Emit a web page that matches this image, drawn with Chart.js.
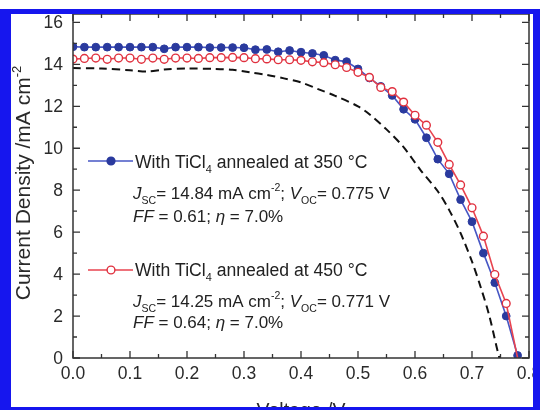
<!DOCTYPE html>
<html>
<head>
<script src="https://cdn.jsdelivr.net/npm/chart.js"></script>
<style>
body { margin: 0; background: #fff; }
#wrap { position: relative; width: 540px; height: 410px; }
#frame { position: absolute; left: 0; top: 9px; width: 540px; height: 401px; box-sizing: border-box;
  border-style: solid; border-color: #1616ee; border-width: 5px 7px 3px 11px; pointer-events: none; }
</style>
</head>
<body>
<div id="wrap">
  <canvas id="jv" width="540" height="410"></canvas>
  <div id="frame"></div>
</div>
<script>
// J-V data
const voltage = [0.00, 0.02, 0.04, 0.06, 0.08, 0.10, 0.12, 0.14, 0.16, 0.18,
                 0.20, 0.22, 0.24, 0.26, 0.28, 0.30, 0.32, 0.34, 0.36, 0.38,
                 0.40, 0.42, 0.44, 0.46, 0.48, 0.50, 0.52, 0.54, 0.56, 0.58,
                 0.60, 0.62, 0.64, 0.66, 0.68, 0.70, 0.72, 0.74, 0.76, 0.78];
const j350 = [14.84, 14.82, 14.82, 14.82, 14.82, 14.82, 14.82, 14.82, 14.74, 14.82,
              14.82, 14.82, 14.80, 14.80, 14.80, 14.79, 14.70, 14.71, 14.60, 14.66,
              14.58, 14.52, 14.43, 14.20, 14.13, 13.78, 13.35, 12.95, 12.52, 11.86,
              11.38, 10.50, 9.48, 8.78, 7.55, 6.50, 5.00, 3.59, 2.00, 0.12];
const j450 = [14.25, 14.28, 14.30, 14.24, 14.30, 14.30, 14.24, 14.30, 14.24, 14.30,
              14.30, 14.28, 14.32, 14.32, 14.33, 14.32, 14.27, 14.26, 14.22, 14.22,
              14.19, 14.12, 14.08, 13.98, 13.85, 13.62, 13.38, 12.90, 12.70, 12.20,
              11.57, 11.10, 10.28, 9.23, 8.25, 7.16, 5.81, 3.98, 2.60, 0.00];
const voltageBare = [0.00, 0.05, 0.10, 0.13, 0.16, 0.20, 0.25, 0.28, 0.31, 0.34,
                     0.37, 0.40, 0.43, 0.46, 0.50, 0.52, 0.55, 0.58, 0.61, 0.64,
                     0.66, 0.68, 0.70, 0.715, 0.73, 0.743, 0.748];
const jBare = [13.82, 13.80, 13.72, 13.66, 13.75, 13.80, 13.78, 13.74, 13.62, 13.50,
               13.33, 13.14, 12.82, 12.50, 12.00, 11.62, 10.90, 10.05, 8.95, 7.95,
               7.05, 5.95, 4.60, 3.40, 2.05, 0.55, 0.00];

const xTicks = [0, 0.1, 0.2, 0.3, 0.4, 0.5, 0.6, 0.7, 0.8];
const xTickLabels = ['0.0', '0.1', '0.2', '0.3', '0.4', '0.5', '0.6', '0.7', '0.8'];
const yTicks = [0, 2, 4, 6, 8, 10, 12, 14, 16];

const FONT = '"Liberation Sans", Arial, sans-serif';
const BLUE_LINE = '#4656c4', BLUE_DOT = '#2a3a9e';
const RED_LINE = '#e8434f', RED_DOT = '#e0303e';

function rich(ctx, parts, x, y, size) {
    parts.forEach(p => {
        let fs = size, dy = 0;
        if (p.sub) { fs = size * 0.62; dy = size * 0.3; }
        if (p.sup) { fs = size * 0.62; dy = -size * 0.42; }
        ctx.font = (p.i ? 'italic ' : '') + fs + 'px ' + FONT;
        ctx.fillText(p.t, x, y + dy);
        x += ctx.measureText(p.t).width;
    });
    return x;
}

function textWidth(ctx, parts, size) {
    let w = 0;
    parts.forEach(p => {
        const fs = (p.sub || p.sup) ? size * 0.62 : size;
        ctx.font = (p.i ? 'italic ' : '') + fs + 'px ' + FONT;
        w += ctx.measureText(p.t).width;
    });
    return w;
}

const framePlugin = {
    id: 'frame',
    afterDraw(chart) {
        const ctx = chart.ctx, a = chart.chartArea;
        const xs = chart.scales.x, ys = chart.scales.y;
        ctx.save();
        ctx.strokeStyle = '#333';
        ctx.lineWidth = 1.5;
        ctx.strokeRect(a.left, a.top, a.right - a.left, a.bottom - a.top);

        // inward ticks on all four sides, minor ones halfway
        ctx.lineWidth = 1.3;
        ctx.beginPath();
        xTicks.forEach((v, i) => {
            const marks = [[v, 7]];
            if (i < xTicks.length - 1) marks.push([(v + xTicks[i + 1]) / 2, 4]);
            marks.forEach(([t, len]) => {
                const px = xs.getPixelForValue(t);
                ctx.moveTo(px, a.bottom); ctx.lineTo(px, a.bottom - len);
                ctx.moveTo(px, a.top); ctx.lineTo(px, a.top + len);
            });
        });
        yTicks.forEach((v, i) => {
            const marks = [[v, 7]];
            if (i < yTicks.length - 1) marks.push([(v + yTicks[i + 1]) / 2, 4]);
            marks.forEach(([t, len]) => {
                const py = ys.getPixelForValue(t);
                ctx.moveTo(a.left, py); ctx.lineTo(a.left + len, py);
                ctx.moveTo(a.right, py); ctx.lineTo(a.right - len, py);
            });
        });
        ctx.stroke();

        // tick labels
        ctx.fillStyle = '#2a2a2a';
        ctx.font = '17.5px ' + FONT;
        ctx.textAlign = 'center';
        ctx.textBaseline = 'alphabetic';
        xTicks.forEach((v, i) => ctx.fillText(xTickLabels[i], xs.getPixelForValue(v), 379));
        ctx.textAlign = 'right';
        ctx.textBaseline = 'middle';
        yTicks.forEach(v => ctx.fillText(String(v), a.left - 10, ys.getPixelForValue(v) + 1));

        // axis titles
        ctx.textAlign = 'left';
        ctx.textBaseline = 'alphabetic';
        const xt = [{ t: 'Voltage /V' }];
        rich(ctx, xt, (a.left + a.right) / 2 - textWidth(ctx, xt, 19.5) / 2, 417, 19.5);
        const yt = [{ t: 'Current Density /mA cm' }, { t: '-2', sup: true }];
        ctx.translate(30, 183);
        ctx.rotate(-Math.PI / 2);
        rich(ctx, yt, -textWidth(ctx, yt, 21) / 2, 0, 21);
        ctx.restore();
    },
    afterDatasetsDraw(chart) {
        const ctx = chart.ctx;
        ctx.save();
        // legend line samples
        const sample = (y, line, dot, fill) => {
            ctx.strokeStyle = line; ctx.lineWidth = 1.6;
            ctx.beginPath(); ctx.moveTo(88, y); ctx.lineTo(133, y); ctx.stroke();
            ctx.beginPath(); ctx.arc(111, y, 3.9, 0, Math.PI * 2);
            ctx.fillStyle = fill; ctx.fill();
            ctx.strokeStyle = dot; ctx.lineWidth = 1.4; ctx.stroke();
        };
        sample(161, BLUE_LINE, BLUE_DOT, BLUE_DOT);
        sample(270, RED_LINE, RED_DOT, '#fff');

        ctx.fillStyle = '#222';
        ctx.textAlign = 'left';
        ctx.textBaseline = 'alphabetic';
        const S = 17, T = 17.6;
        rich(ctx, [{ t: 'With TiCl' }, { t: '4', sub: true }, { t: ' annealed at 350 \u00b0C' }], 135, 167.5, T);
        rich(ctx, [{ t: 'J', i: true }, { t: 'SC', sub: true }, { t: '= 14.84 mA cm' }, { t: '-2', sup: true },
                   { t: '; ' }, { t: 'V', i: true }, { t: 'OC', sub: true }, { t: '= 0.775 V' }], 133, 198.5, S);
        rich(ctx, [{ t: 'FF', i: true }, { t: ' = 0.61; ' }, { t: '\u03b7', i: true }, { t: ' = 7.0%' }], 133, 221.5, S);
        rich(ctx, [{ t: 'With TiCl' }, { t: '4', sub: true }, { t: ' annealed at 450 \u00b0C' }], 135, 275.5, T);
        rich(ctx, [{ t: 'J', i: true }, { t: 'SC', sub: true }, { t: '= 14.25 mA cm' }, { t: '-2', sup: true },
                   { t: '; ' }, { t: 'V', i: true }, { t: 'OC', sub: true }, { t: '= 0.771 V' }], 133, 306.5, S);
        rich(ctx, [{ t: 'FF', i: true }, { t: ' = 0.64; ' }, { t: '\u03b7', i: true }, { t: ' = 7.0%' }], 133, 328, S);
        ctx.restore();
    }
};

const ctx = document.getElementById('jv').getContext('2d');
new Chart(ctx, {
    type: 'line',
    data: {
        datasets: [
            {
                label: 'With TiCl4 annealed at 450 °C',
                data: voltage.map((v, i) => ({ x: v, y: j450[i] })),
                borderColor: RED_LINE,
                borderWidth: 1.6,
                pointRadius: c => (c.raw && c.raw.y === 0 ? 0 : 3.9),
                pointBackgroundColor: '#fff',
                pointBorderColor: RED_DOT,
                pointBorderWidth: 1.4,
                order: 0
            },
            {
                label: 'With TiCl4 annealed at 350 °C',
                data: voltage.map((v, i) => ({ x: v, y: j350[i] })),
                borderColor: BLUE_LINE,
                borderWidth: 1.6,
                pointRadius: 3.9,
                pointBackgroundColor: BLUE_DOT,
                pointBorderColor: BLUE_DOT,
                pointBorderWidth: 1,
                order: 1
            },
            {
                label: 'without TiCl4',
                data: voltageBare.map((v, i) => ({ x: v, y: jBare[i] })),
                borderColor: '#111',
                borderWidth: 2,
                borderDash: [8, 5],
                pointRadius: 0,
                tension: 0.3,
                order: 2
            }
        ]
    },
    options: {
        responsive: false,
        animation: false,
        layout: { padding: { left: 73, top: 14, right: 11, bottom: 52 } },
        plugins: { legend: { display: false }, tooltip: { enabled: false } },
        scales: {
            x: { type: 'linear', min: 0, max: 0.8, display: false },
            y: { min: 0, max: 16.4, display: false }
        }
    },
    plugins: [framePlugin]
});
</script>
</body>
</html>
